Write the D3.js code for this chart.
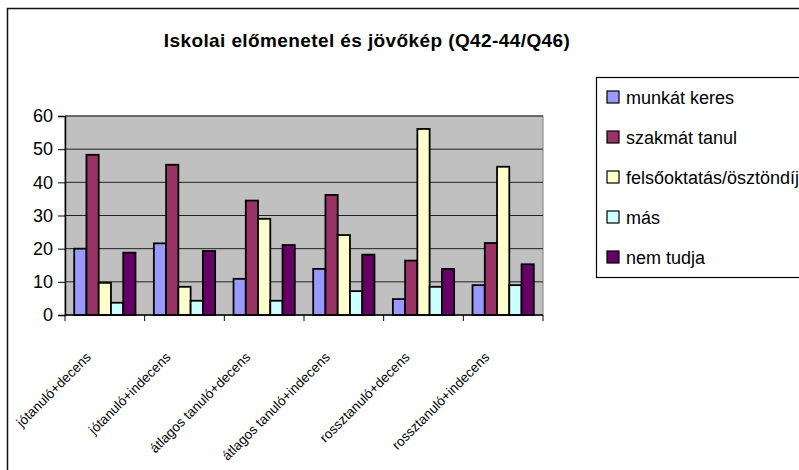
<!DOCTYPE html>
<html>
<head>
<meta charset="utf-8">
<script src="https://cdn.jsdelivr.net/npm/d3@7"></script>
<style>
    body { margin: 0; background: #fff; }
    svg { display: block; font-family: "Liberation Sans", Arial, sans-serif; }
</style>
</head>
<body>
<div id="chart"></div>
<script>
// chart values
const categories = [
    'jótanuló+decens',
    'jótanuló+indecens',
    'átlagos tanuló+decens',
    'átlagos tanuló+indecens',
    'rossztanuló+decens',
    'rossztanuló+indecens'
];
const seriesNames = ['munkát keres', 'szakmát tanul', 'felsőoktatás/ösztöndíj', 'más', 'nem tudja'];
const munkatKeres = [20, 21.6, 10.9, 13.9, 4.8, 9.0];
const szakmatTanul = [48.3, 45.3, 34.5, 36.2, 16.4, 21.7];
const felsooktatas = [9.7, 8.5, 29.0, 24.1, 56.1, 44.7];
const mas = [3.7, 4.3, 4.3, 7.2, 8.5, 9.0];
const nemTudja = [18.8, 19.3, 21.1, 18.2, 13.9, 15.3];
const yTicks = [0, 10, 20, 30, 40, 50, 60];
const title = 'Iskolai előmenetel és jövőkép (Q42-44/Q46)';

const seriesValues = [munkatKeres, szakmatTanul, felsooktatas, mas, nemTudja];
const colors = ['#9999FF', '#993366', '#FFFFCC', '#CCFFFF', '#660066'];

const width = 799, height = 470;
const plot = {left: 65, right: 543, top: 116, bottom: 315};

const svg = d3.select('#chart').append('svg')
    .attr('width', width)
    .attr('height', height);

// outer chart frame (runs off the right and bottom edge)
svg.append('rect')
    .attr('x', 7.5).attr('y', 8.5)
    .attr('width', 900).attr('height', 600)
    .attr('fill', '#fff')
    .attr('stroke', '#111')
    .attr('stroke-width', 1.5);

svg.append('text')
    .attr('x', 367).attr('y', 47)
    .attr('text-anchor', 'middle')
    .attr('font-size', 19)
    .attr('font-weight', 'bold')
    .attr('letter-spacing', 0.4)
    .text(title);

// scales
const x = d3.scaleBand()
    .domain(categories)
    .range([plot.left, plot.right])
    .padding(0);
const xInner = d3.scaleBand()
    .domain(seriesNames)
    .range([0, x.bandwidth()])
    .paddingInner(0)
    .paddingOuter(0.75);
const y = d3.scaleLinear()
    .domain([0, 60])
    .range([plot.bottom, plot.top]);

// plot background + gridlines
svg.append('rect')
    .attr('x', plot.left).attr('y', plot.top)
    .attr('width', plot.right - plot.left)
    .attr('height', plot.bottom - plot.top)
    .attr('fill', '#C0C0C0')
    .attr('stroke', '#808080')
    .attr('stroke-width', 1);

svg.append('g')
    .selectAll('line')
    .data(yTicks.filter(d => d > 0))
    .join('line')
    .attr('x1', plot.left).attr('x2', plot.right)
    .attr('y1', d => y(d)).attr('y2', d => y(d))
    .attr('stroke', '#222')
    .attr('stroke-width', 1);

// bars
const groups = svg.append('g')
    .selectAll('g')
    .data(categories)
    .join('g')
    .attr('transform', d => `translate(${x(d)},0)`);

groups.selectAll('rect')
    .data((c, i) => seriesNames.map((s, j) => ({s, j, v: seriesValues[j][i]})))
    .join('rect')
    .attr('x', d => xInner(d.s))
    .attr('y', d => y(d.v))
    .attr('width', xInner.bandwidth())
    .attr('height', d => plot.bottom - y(d.v))
    .attr('fill', d => colors[d.j])
    .attr('stroke', '#000')
    .attr('stroke-width', 1.8);

// y axis
const yAxis = svg.append('g')
    .attr('transform', `translate(${plot.left},0)`)
    .call(d3.axisLeft(y).tickValues(yTicks).tickSize(7).tickPadding(5));
yAxis.select('.domain').attr('stroke', '#000').attr('stroke-width', 1.5);
yAxis.selectAll('.tick line').attr('stroke', '#000');
yAxis.selectAll('.tick text')
    .attr('font-size', 18)
    .attr('font-family', '"Liberation Sans", Arial, sans-serif')
    .attr('fill', '#000');

// x axis: ticks at category boundaries
const xAxis = svg.append('g')
    .attr('transform', `translate(0,${plot.bottom})`);
xAxis.append('line')
    .attr('x1', plot.left).attr('x2', plot.right)
    .attr('stroke', '#000').attr('stroke-width', 1.5);
xAxis.selectAll('line.tick')
    .data(categories.map(c => x(c)).concat([plot.right]))
    .join('line')
    .classed('tick', true)
    .attr('x1', d => d).attr('x2', d => d)
    .attr('y1', 0).attr('y2', 6)
    .attr('stroke', '#000');

xAxis.selectAll('text')
    .data(categories)
    .join('text')
    .attr('transform', d => `translate(${x(d) + x.bandwidth() / 2 - 13},${43}) rotate(-45)`)
    .attr('text-anchor', 'end')
    .attr('font-size', 13.5)
    .text(d => d);

// legend (box runs off the right edge, like the reference)
const legend = svg.append('g');
legend.append('rect')
    .attr('x', 596.5).attr('y', 77.5)
    .attr('width', 300).attr('height', 200)
    .attr('fill', '#fff')
    .attr('stroke', '#000')
    .attr('stroke-width', 1.2);

const items = legend.selectAll('g.item')
    .data(seriesNames)
    .join('g')
    .classed('item', true)
    .attr('transform', (d, i) => `translate(607,${97 + i * 40})`);
items.append('rect')
    .attr('x', 0).attr('y', -6)
    .attr('width', 12).attr('height', 12)
    .attr('fill', (d, i) => colors[i])
    .attr('stroke', '#000')
    .attr('stroke-width', 1.2);
items.append('text')
    .attr('x', 19).attr('y', 6.5)
    .attr('font-size', 18)
    .text(d => d);
</script>
</body>
</html>
